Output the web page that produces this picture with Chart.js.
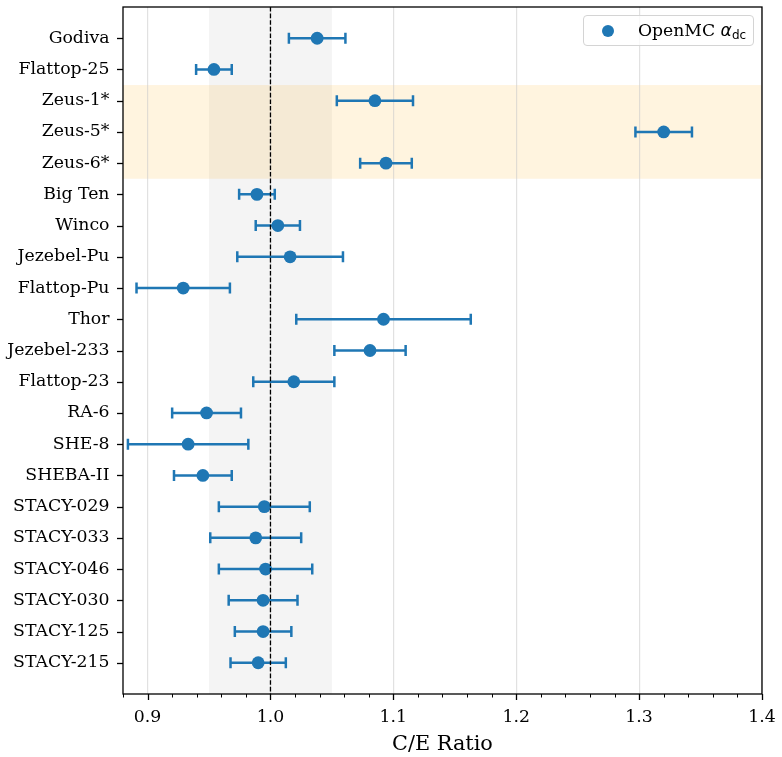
<!DOCTYPE html>
<html><head><meta charset="utf-8">
<script src="https://cdn.jsdelivr.net/npm/chart.js@4/dist/chart.umd.min.js"></script>
<style>
html,body{margin:0;padding:0;background:#fff;}
#wrap{position:relative;width:782px;height:757px;}
#legend{position:absolute;left:583px;top:15px;width:169px;height:29px;border:1px solid #d4d4d4;border-radius:4px;background:rgba(255,255,255,0.8);box-sizing:content-box;}
#legend .dot{position:absolute;left:18px;top:9px;width:12px;height:12px;border-radius:50%;background:#1f77b4;}
#legend .txt{position:absolute;left:54px;top:3px;font-family:"DejaVu Serif",serif;font-size:17.2px;line-height:22px;color:#000;white-space:nowrap;}
#legend .al{font-family:"DejaVu Sans",sans-serif;font-style:italic;}
#legend sub{font-family:"DejaVu Sans",sans-serif;font-size:12px;vertical-align:-3px;line-height:0;}
</style></head><body>
<div id="wrap"><canvas id="c" width="782" height="757"></canvas>
<div id="legend"><div class="dot"></div><div class="txt">OpenMC <span class="al">α</span><sub>dc</sub></div></div>
</div>
<script>
const categories = ["Godiva","Flattop-25","Zeus-1*","Zeus-5*","Zeus-6*","Big Ten","Winco","Jezebel-Pu","Flattop-Pu","Thor","Jezebel-233","Flattop-23","RA-6","SHE-8","SHEBA-II","STACY-029","STACY-033","STACY-046","STACY-030","STACY-125","STACY-215"];
const ceValues = [1.038,0.954,1.085,1.320,1.094,0.989,1.006,1.016,0.929,1.092,1.081,1.019,0.948,0.933,0.945,0.995,0.988,0.996,0.994,0.994,0.990];
const ceErrors = [0.023,0.0145,0.031,0.023,0.021,0.0145,0.018,0.043,0.038,0.071,0.029,0.033,0.028,0.049,0.0235,0.037,0.037,0.038,0.028,0.023,0.0225];
const xTickLabels = ["0.9","1.0","1.1","1.2","1.3","1.4"];
const shadedCategories = ["Zeus-1*","Zeus-6*"];
const acceptBand = [0.95, 1.05];
const refLine = 1.0;

const BLUE = '#1f77b4';
const points = categories.map((c,i)=>({x:ceValues[i], y:i}));

function isMajor(v){ return xTickLabels.indexOf(v.toFixed(1))>=0 && Math.abs(v*10-Math.round(v*10))<1e-6; }

const overlay = {
  id:'overlay',
  beforeDraw(chart){
    const {ctx, chartArea:a, scales:{x,y}} = chart;
    ctx.save();
    const x0 = x.getPixelForValue(acceptBand[0]), x1 = x.getPixelForValue(acceptBand[1]);
    ctx.fillStyle = 'rgba(128,128,128,0.085)';
    ctx.fillRect(x0, a.top, x1-x0, a.bottom-a.top);
    const i0 = categories.indexOf(shadedCategories[0]) - 0.5, i1 = categories.indexOf(shadedCategories[1]) + 0.5;
    const y0 = y.getPixelForValue(i0), y1 = y.getPixelForValue(i1);
    ctx.fillStyle = 'rgba(255,165,0,0.125)';
    ctx.fillRect(a.left, Math.min(y0,y1), a.right-a.left, Math.abs(y1-y0));
    ctx.restore();
  },
  beforeDatasetsDraw(chart){
    const {ctx, scales:{x,y}} = chart;
    ctx.save();
    ctx.strokeStyle = BLUE; ctx.lineWidth = 2.5;
    categories.forEach((c,i)=>{
      const py = y.getPixelForValue(i);
      const l = x.getPixelForValue(ceValues[i]-ceErrors[i]);
      const r = x.getPixelForValue(ceValues[i]+ceErrors[i]);
      ctx.beginPath();
      ctx.moveTo(l,py); ctx.lineTo(r,py);
      ctx.moveTo(l,py-5.5); ctx.lineTo(l,py+5.5);
      ctx.moveTo(r,py-5.5); ctx.lineTo(r,py+5.5);
      ctx.stroke();
    });
    ctx.restore();
  },
  afterDatasetsDraw(chart){
    const {ctx, chartArea:a, scales:{x}} = chart;
    ctx.save();
    const px = x.getPixelForValue(refLine);
    ctx.strokeStyle = '#000'; ctx.lineWidth = 1.3; ctx.setLineDash([4.6,2]);
    ctx.beginPath(); ctx.moveTo(px,a.top); ctx.lineTo(px,a.bottom); ctx.stroke();
    ctx.restore();
  },
  afterDraw(chart){
    const {ctx, chartArea:a, scales:{x,y}} = chart;
    ctx.save();
    ctx.strokeStyle = '#000';
    x.ticks.forEach(t=>{
      const px = Math.round(x.getPixelForValue(t.value))+0.5;
      const maj = isMajor(t.value);
      ctx.lineWidth = maj?1.3:1;
      ctx.beginPath(); ctx.moveTo(px,a.bottom); ctx.lineTo(px,a.bottom+(maj?6:3.5)); ctx.stroke();
    });
    ctx.lineWidth = 1.3;
    y.ticks.forEach(t=>{
      const py = Math.round(y.getPixelForValue(t.value))+0.5;
      ctx.beginPath(); ctx.moveTo(a.left,py); ctx.lineTo(a.left-6,py); ctx.stroke();
    });
    ctx.lineWidth = 1.3;
    ctx.strokeRect(a.left, a.top, a.right-a.left, a.bottom-a.top);
    ctx.restore();
  }
};

new Chart(document.getElementById('c'), {
  type:'scatter',
  data:{datasets:[{label:'OpenMC αdc', data:points, backgroundColor:BLUE, borderColor:BLUE, pointRadius:6.4, pointHoverRadius:6.4, borderWidth:0}]},
  options:{
    responsive:false, animation:false, devicePixelRatio:1,
    layout:{padding:{top:7,right:20,bottom:0,left:0}},
    plugins:{legend:{display:false}, tooltip:{enabled:false}},
    scales:{
      x:{type:'linear', min:0.88, max:1.4,
        afterBuildTicks(scale){ const t=[]; for(let k=0;k<=26;k++) t.push({value: Math.round((0.88+0.02*k)*100)/100}); scale.ticks=t; },
        afterFit(scale){ scale.height=63; scale.paddingLeft=0; scale.paddingRight=0; },
        grid:{drawTicks:false, color:(c)=> (c.tick && isMajor(c.tick.value)) ? 'rgba(200,200,200,0.55)' : 'rgba(0,0,0,0)', lineWidth:1.2},
        border:{display:false},
        ticks:{autoSkip:false, maxRotation:0, padding:13, color:'#000', font:{family:'"DejaVu Serif", serif', size:17.3},
          callback:(v)=> isMajor(v) ? v.toFixed(1) : ''},
        title:{display:true, text:'C/E Ratio', color:'#000', font:{family:'"DejaVu Serif", serif', size:20.8}, padding:{top:2,bottom:0}}
      },
      y:{type:'linear', min:-1, max:21, reverse:true,
        afterBuildTicks(scale){ scale.ticks = categories.map((c,i)=>({value:i})); },
        afterFit(scale){ scale.width=123; scale.paddingTop=0; scale.paddingBottom=0; },
        grid:{display:false, drawTicks:false}, border:{display:false},
        ticks:{autoSkip:false, padding:13.5, color:'#000', font:{family:'"DejaVu Serif", serif', size:17.3},
          callback:(v)=> categories[v] !== undefined ? categories[v] : ''}
      }
    }
  },
  plugins:[overlay]
});
</script>
</body></html>
